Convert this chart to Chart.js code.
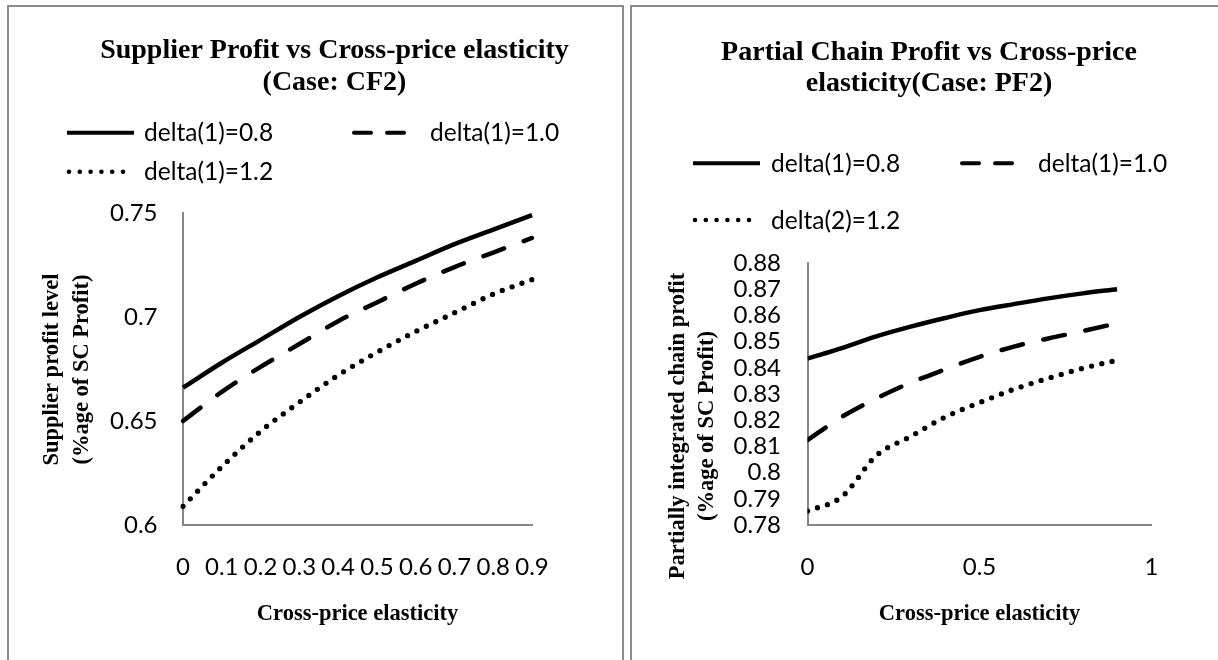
<!DOCTYPE html>
<html>
<head>
<meta charset="utf-8">
<title>Profit vs Cross-price elasticity</title>
<script src="https://cdn.jsdelivr.net/npm/chart.js@4.4.1/dist/chart.umd.min.js"></script>
<style>
  html, body { margin: 0; padding: 0; background: #fff; width: 1218px; height: 660px; overflow: hidden; }
  .panel { position: absolute; top: 5px; height: 653px; border-top: 2px solid #8c8c8c; }
  #leftPanel { left: 7px; width: 613px; border-left: 2px solid #8c8c8c; border-right: 2px solid #8c8c8c; }
  #rightPanel { left: 630px; width: 586px; border-left: 2px solid #8c8c8c; }
  canvas { display: block; }
</style>
</head>
<body>
<div class="panel" id="leftPanel"><canvas id="supplierChart" width="613" height="653"></canvas></div>
<div class="panel" id="rightPanel"><canvas id="partialChart" width="586" height="653"></canvas></div>

<script>
'use strict';

// --- left chart: Supplier profit (Case: CF2) ---
var elasticityLabels = ['0', '0.1', '0.2', '0.3', '0.4', '0.5', '0.6', '0.7', '0.8', '0.9'];
var supplierDelta08 = [0.666, 0.678, 0.689, 0.700, 0.710, 0.719, 0.727, 0.735, 0.742, 0.749];
var supplierDelta10 = [0.650, 0.664, 0.676, 0.687, 0.698, 0.707, 0.716, 0.724, 0.731, 0.738];
var supplierDelta12 = [0.609, 0.628, 0.645, 0.659, 0.672, 0.683, 0.693, 0.702, 0.711, 0.718];
var supplierYTicks = [0.6, 0.65, 0.7, 0.75];
var supplierSeriesNames = ['delta(1)=0.8', 'delta(1)=1.0', 'delta(1)=1.2'];

// --- right chart: Partial chain profit (Case: PF2) ---
var elasticityX = [0, 0.1, 0.2, 0.3, 0.4, 0.5, 0.6, 0.7, 0.8, 0.9];
var partialDelta08 = [0.8435, 0.8475, 0.8520, 0.8557, 0.8590, 0.8620, 0.8643, 0.8665, 0.8684, 0.8700];
var partialDelta10 = [0.8124, 0.8213, 0.8283, 0.8343, 0.8394, 0.8442, 0.8481, 0.8512, 0.8540, 0.8570];
var partialDelta12 = [0.7853, 0.7908, 0.8065, 0.8138, 0.8212, 0.8267, 0.8318, 0.8360, 0.8398, 0.8429];
var partialYTicks = [0.78, 0.79, 0.8, 0.81, 0.82, 0.83, 0.84, 0.85, 0.86, 0.87, 0.88];
var partialXTicks = [0, 0.5, 1];
var partialSeriesNames = ['delta(1)=0.8', 'delta(1)=1.0', 'delta(2)=1.2'];

var SANS = 'Lato, "Liberation Sans", sans-serif';
var SERIF = '"Liberation Serif", "DejaVu Serif", serif';
var AXIS_GREY = '#868686';

// solid / long dash / round dot, as in the original sheet
var LINE_STYLES = [
  { dash: [], legendDash: [], cap: 'butt', width: 4.5 },
  { dash: [22, 21], legendDash: [17, 16], cap: 'round', width: 4.5 },
  { dash: [0, 10.5], legendDash: [0, 10.8], cap: 'round', width: 5.3 }
];

// draws the two-line title, the Excel-style legend grid and the 2-line y title
var panelTextPlugin = {
  id: 'panelText',
  afterDraw: function (chart, args, o) {
    var ctx = chart.ctx;
    ctx.save();
    ctx.fillStyle = '#000';

    ctx.font = 'bold 28px ' + SERIF;
    ctx.textAlign = 'center';
    ctx.textBaseline = 'alphabetic';
    o.title.forEach(function (line, i) { ctx.fillText(line, o.titleX, o.titleY[i]); });

    ctx.font = '24.5px ' + SANS;
    ctx.textAlign = 'left';
    chart.data.datasets.forEach(function (ds, i) {
      var col = i % 2, row = Math.floor(i / 2);
      var sx = o.legendX[col], y = o.legendY[row];
      var pad = ds.borderCapStyle === 'round' ? 2 : 0;
      ctx.save();
      ctx.strokeStyle = '#000';
      ctx.lineWidth = ds.borderCapStyle === 'round' && !ds.legendDash[0] ? 4.6 : 4;
      ctx.lineCap = ds.borderCapStyle;
      ctx.setLineDash(ds.legendDash);
      ctx.beginPath();
      ctx.moveTo(sx + pad, y);
      ctx.lineTo(sx + o.sampleWidth[col] - pad, y);
      ctx.stroke();
      ctx.restore();
      ctx.fillText(ds.label, sx + o.textGap[col], y + 8.5);
    });

    ctx.font = 'bold 22.5px ' + SERIF;
    ctx.textAlign = 'center';
    ctx.textBaseline = 'middle';
    o.yTitle.forEach(function (line, i) {
      ctx.save();
      ctx.translate(o.yTitleX[i], o.yTitleY);
      ctx.rotate(-Math.PI / 2);
      ctx.fillText(line, 0, 0);
      ctx.restore();
    });
    ctx.restore();
  }
};

function makeDatasets(names, series, xs) {
  return series.map(function (values, i) {
    var st = LINE_STYLES[i];
    return {
      label: names[i],
      data: xs ? values.map(function (v, k) { return { x: xs[k], y: v }; }) : values,
      borderColor: '#000',
      borderWidth: st.width,
      borderDash: st.dash,
      borderCapStyle: st.cap,
      legendDash: st.legendDash,
      pointRadius: 0,
      fill: false,
      cubicInterpolationMode: 'monotone'
    };
  });
}

function fixedTicks(list) {
  return function (scale) { scale.ticks = list.map(function (v) { return { value: v }; }); };
}

function axisBase(tickPad, fitFn) {
  return {
    grid: { display: false, drawTicks: false },
    border: { display: true, color: AXIS_GREY, width: 2 },
    ticks: {
      font: { family: SANS, size: 24 }, color: '#000', padding: tickPad,
      autoSkip: false, maxRotation: 0, minRotation: 0,
      callback: function (v, i, t) { return this.type === 'category' ? this.getLabelForValue(v) : String(t[i].value); }
    },
    afterFit: fitFn
  };
}

function xTitle() {
  return {
    display: true, text: 'Cross-price elasticity', color: '#000',
    font: { family: SERIF, size: 22.5, weight: 'bold' }, padding: { top: 0, bottom: 32 }
  };
}

function init() {
  var leftX = axisBase(28, function (s) { s.height = 135; });
  leftX.type = 'category';
  leftX.offset = false;
  leftX.title = xTitle();
  var leftY = axisBase(25.5, function (s) { s.width = 174; });
  leftY.min = 0.6; leftY.max = 0.75;
  leftY.afterBuildTicks = fixedTicks(supplierYTicks);

  new Chart(document.getElementById('supplierChart'), {
    type: 'line',
    data: {
      labels: elasticityLabels,
      datasets: makeDatasets(supplierSeriesNames, [supplierDelta08, supplierDelta10, supplierDelta12])
    },
    options: {
      responsive: false, animation: false, events: [],
      layout: { padding: { top: 206, right: 90, left: 0, bottom: 0 } },
      scales: { x: leftX, y: leftY },
      plugins: {
        legend: { display: false }, tooltip: { enabled: false },
        panelText: {
          title: ['Supplier Profit vs Cross-price elasticity', '(Case: CF2)'],
          titleX: 325.5, titleY: [51, 83],
          legendX: [58, 343], legendY: [125.7, 164.7], sampleWidth: [67, 54], textGap: [77, 78],
          yTitle: ['Supplier profit level', '(%age of SC Profit)'], yTitleX: [43, 73], yTitleY: 362.5
        }
      }
    },
    plugins: [panelTextPlugin]
  });

  var rightX = axisBase(28, function (s) { s.height = 135; });
  rightX.type = 'linear';
  rightX.min = 0; rightX.max = 1;
  rightX.afterBuildTicks = fixedTicks(partialXTicks);
  rightX.title = xTitle();
  var rightY = axisBase(26.5, function (s) { s.width = 175.5; });
  rightY.min = 0.78; rightY.max = 0.88;
  rightY.afterBuildTicks = fixedTicks(partialYTicks);

  new Chart(document.getElementById('partialChart'), {
    type: 'line',
    data: {
      datasets: makeDatasets(partialSeriesNames, [partialDelta08, partialDelta10, partialDelta12], elasticityX)
    },
    options: {
      responsive: false, animation: false, events: [],
      layout: { padding: { top: 256, right: 66.5, left: 0, bottom: 0 } },
      scales: { x: rightX, y: rightY },
      plugins: {
        legend: { display: false }, tooltip: { enabled: false },
        panelText: {
          title: ['Partial Chain Profit vs Cross-price', 'elasticity(Case: PF2)'],
          titleX: 297, titleY: [53, 84],
          legendX: [61, 328], legendY: [156.3, 213], sampleWidth: [67, 54], textGap: [78, 78],
          yTitle: ['Partially integrated chain profit', '(%age of SC Profit)'], yTitleX: [46, 75], yTitleY: 419
        }
      }
    },
    plugins: [panelTextPlugin]
  });
}

if (document.readyState === 'complete') {
  init();
} else {
  window.addEventListener('load', init);
}
</script>
</body>
</html>
